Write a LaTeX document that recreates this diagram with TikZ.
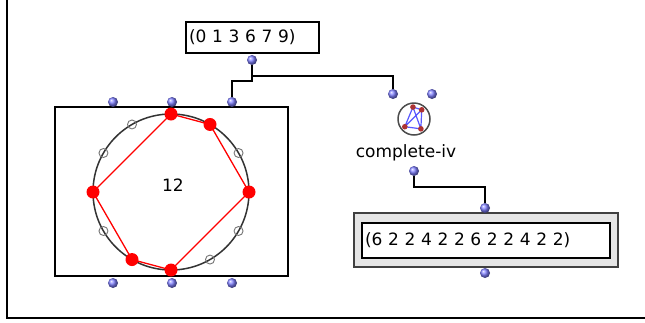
\documentclass[tikz,border=0pt]{standalone}
\usepackage{fontspec}
\setmainfont{DejaVu Sans}
\usetikzlibrary{positioning,calc}
\tikzset{
    %Define style for inlets and outlets
    port/.style={
           circle,
           inner sep=0pt,
           minimum size=10pt,
           shading=ball,
           ball color=blue!50!white},
    %Define style for boxes
    listbox/.style={
           draw=black, line width=1.5pt,
           fill=white,
           inner sep=3pt,
           align=left,
           font=\fontsize{17}{20}\selectfont},
    clockbox/.style={
           draw=black, line width=1.5pt,
           minimum width=233pt,
           minimum height=169pt},
    % Define style for pitch points
    pcon/.style={
           circle,
           fill=red,
           inner sep=0pt,
           minimum size=13pt},
    pcoff/.style={
           circle,
           draw=black!55, line width=0.9pt,
           inner sep=0pt,
           minimum size=9pt},
    % Define wire style
    wire/.style={
           draw=black,
           line width=1.4pt}
}

\begin{document}
\begin{tikzpicture}[x=1pt,y=-1pt,font=\fontsize{17}{20}\selectfont]
\useasboundingbox (0,0) rectangle (645,322);
 %frame
\draw[line width=1.5pt] (7,0) -- (7,318) -- (645,318);
 %list
\node[listbox, text width=127pt, minimum height=31pt](list) at (252.5,37.5){(0 1 3 6 7 9)};
\node[port](list-out) at (252,60){};
 %clock
\node[clockbox](clock) at (171.5,191.5){};
\coordinate (c) at (171,192);
\draw[line width=1.5pt, black!80] (c) circle (78pt);
\foreach \p in {0,...,11}
    \coordinate (pc\p) at ($(c)+({90-30*\p}:78pt)$);
\draw[red, line width=1.3pt] (pc0) -- (pc1) -- (pc3) -- (pc6) -- (pc7) -- (pc9) -- cycle;
\foreach \p in {2,4,5,8,10,11}
    \node[pcoff](off\p) at (pc\p){};
\foreach \p in {0,1,3,6,7,9}
    \node[pcon](on\p) at (pc\p){};
\node(card) at (173,185){12};
\node[port](clock-in1) at (113,102){};
\node[port](clock-in2) at (172,102){};
\node[port](clock-in3) at (232,102){};
\node[port](clock-out1) at (113,283){};
\node[port](clock-out2) at (172,283){};
\node[port](clock-out3) at (232,283){};
 %complete-iv
\node[port](civ-in1) at (393,94){};
\node[port](civ-in2) at (432,94){};
\node[circle, draw=black!70, line width=1.5pt, minimum size=32pt, inner sep=0pt](icon) at (414,119){};
\foreach \a [count=\i] in {95,50,-140,-55}
    \coordinate (ic\i) at ($(icon.center)+(\a:12pt)$);
\draw[blue!65, line width=1.2pt] (ic1) -- (ic2) -- (ic4) -- (ic3) -- cycle
    (ic1) -- (ic4) (ic2) -- (ic3);
\foreach \i in {1,...,4}
    \fill[red!60!black!80] (ic\i) circle (2.8pt);
\node(civ) at (406,153){complete-iv};
\node[port](civ-out) at (414,171){};
 %result
\node[draw=black!75, line width=1.5pt, fill=black!10, minimum width=264pt, minimum height=54pt](res-frame) at (486,240){};
\node[listbox, text width=242pt, minimum height=35pt](res) at (486,240.5){(6 2 2 4 2 2 6 2 2 4 2 2)};
\node[port](res-in) at (485,208){};
\node[port](res-out) at (485,273){};
 %wires
\coordinate (j1) at (252,76);
\coordinate (j2) at (252,81);
\coordinate (j3) at (414,187);
\draw[wire] (list-out) -- (j1) -| (civ-in1);
\draw[wire] (j1) -- (j2) -| (clock-in3);
\draw[wire] (civ-out) -- (j3) -| (res-in);
\end{tikzpicture}
\end{document}
